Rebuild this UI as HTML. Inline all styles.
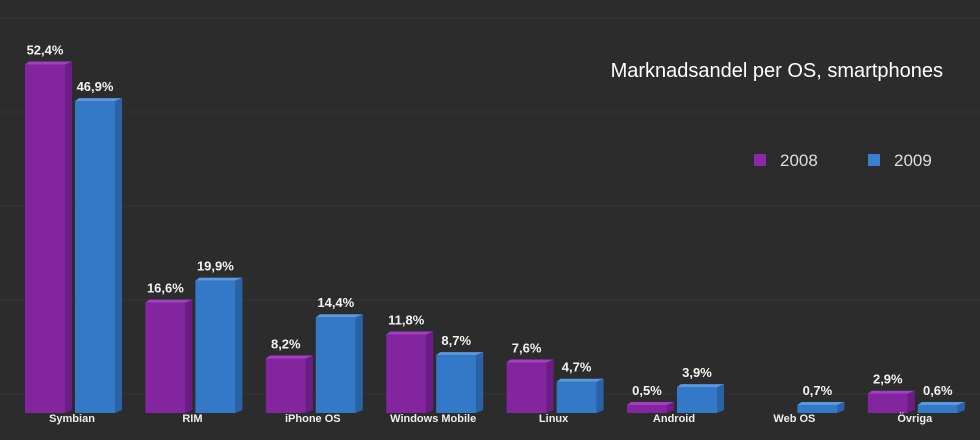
<!DOCTYPE html>
<html><head><meta charset="utf-8"><style>
body{margin:0;background:#2c2c2c;}
svg{display:block;font-family:"Liberation Sans",sans-serif;}
</style></head><body>
<svg id="c" width="980" height="440">
<rect width="980" height="440" fill="#2c2c2c"/>
<g id="grid"></g>
<g id="bars"></g>
<text x="943" y="77" text-anchor="end" fill="#fff" font-size="20">Marknadsandel per OS, smartphones</text>
<g>
<rect x="754" y="154" width="12" height="12" fill="#8a2aa8"/>
<text x="780" y="166" fill="#ddd" font-size="17">2008</text>
<rect x="868" y="154" width="12" height="12" fill="#3a7fd0"/>
<text x="894" y="166" fill="#ddd" font-size="17">2009</text>
</g>
</svg>
<script>
const categories=["Symbian","RIM","iPhone OS","Windows Mobile","Linux","Android","Web OS","Övriga"];
const values2008=[52.4,16.6,8.2,11.8,7.6,0.5,0,2.9];
const values2009=[46.9,19.9,14.4,8.7,4.7,3.9,0.7,0.6];
const labels2008=["52,4%","16,6%","8,2%","11,8%","7,6%","0,5%","","2,9%"];
const labels2009=["46,9%","19,9%","14,4%","8,7%","4,7%","3,9%","0,7%","0,6%"];
const gridTicks=[0,1,2,3,4];
const NS="http://www.w3.org/2000/svg";
const base=413, ppu=6.65;
function yScale(v){return base-v*ppu;}
function xCenter(i){return 72+i*120.4;}
function mk(tag,attrs,parent){const e=document.createElementNS(NS,tag);for(const k in attrs)e.setAttribute(k,attrs[k]);parent.appendChild(e);return e;}
const grid=document.getElementById('grid');
gridTicks.forEach(t=>{
  const y=18+t*94;
  const l=mk('line',{x1:0,x2:980,y1:y,y2:y,stroke:'#353535','stroke-width':1},grid);
  
  
});
const bars=document.getElementById('bars');
function bar(xl,v,front,side,top,label,name){
  if(v<=0)return;
  const w=40,d=7;
  let yt=Math.min(yScale(v),base-8);
  const g=mk('g',{},bars);
  
  
  mk('rect',{x:xl,y:yt,width:w,height:base-yt,fill:front},g);
  mk('polygon',{points:`${xl+w},${yt} ${xl+w+d},${yt-3} ${xl+w+d},${base-3} ${xl+w},${base}`,fill:side},g);
  mk('polygon',{points:`${xl},${yt} ${xl+4},${yt-3} ${xl+w+d},${yt-3} ${xl+w},${yt}`,fill:top},g);
  const t=mk('text',{x:xl+w/2,y:yt-10,'text-anchor':'middle',fill:'#f2f2f2','font-size':13,'font-weight':'bold'},g);
  t.textContent=label;
}
categories.forEach((c,i)=>{
  const cx=xCenter(i);
  bar(cx-47,values2008[i],'#82259f','#6b1c85','#a040c0',labels2008[i],'bar-2008-'+i);
  bar(cx+3,values2009[i],'#3478c8','#2a62a6','#5a98e0',labels2009[i],'bar-2009-'+i);
  const t=mk('text',{x:cx,y:422,'text-anchor':'middle',fill:'#eee','font-size':11,'font-weight':'bold'},bars);
  
  
  t.textContent=c;
});
</script>
</body></html>
